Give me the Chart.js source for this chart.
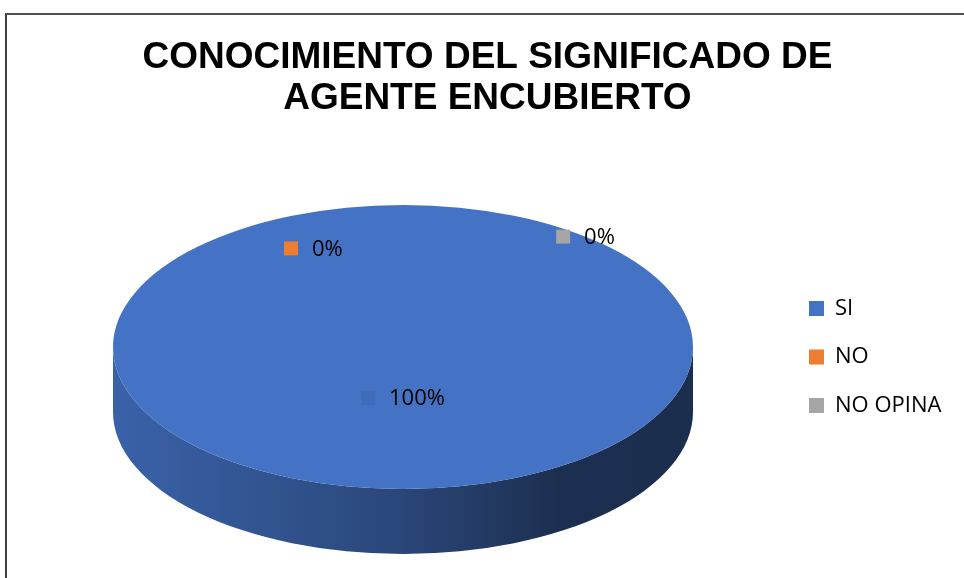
<!DOCTYPE html>
<html><head><meta charset="utf-8">
<script src="https://cdn.jsdelivr.net/npm/chart.js@4.4.0/dist/chart.umd.min.js"></script>
<style>
html,body{margin:0;padding:0;background:#fff;}
#wrap{position:relative;width:964px;height:578px;overflow:hidden;}
#frame{position:absolute;left:5px;top:13px;width:2000px;height:2000px;border-top:2px solid #4f4f4f;border-left:2px solid #404040;pointer-events:none;}
canvas{position:absolute;left:0;top:0;}
</style></head><body>
<div id="wrap"><canvas id="c" width="964" height="578"></canvas><div id="frame"></div></div>
<script>
const titleLines = ['CONOCIMIENTO DEL SIGNIFICADO DE', 'AGENTE ENCUBIERTO'];
const categories = ['SI', 'NO', 'NO OPINA'];
const percentages = [100, 0, 0];
const seriesColors = ['#4472C4', '#ED7D31', '#A5A5A5'];

function shade(hex, f) {
  const n = parseInt(hex.slice(1), 16);
  const r = (n >> 16) & 255, g = (n >> 8) & 255, b = n & 255;
  return 'rgb(' + Math.round(r * f) + ',' + Math.round(g * f) + ',' + Math.round(b * f) + ')';
}

const pie3d = {
  id: 'pie3d',
  beforeDatasetsDraw(chart, args, opts) {
    const ctx = chart.ctx;
    const arcs = chart.getDatasetMeta(0).data;
    ctx.save();
    if (!arcs.length) return;
    const cx = arcs[0].x, cy = arcs[0].y, R = arcs[0].outerRadius;
    ctx.translate(cx, cy); ctx.scale(opts.stretchX, 1); ctx.translate(-cx, -cy);
    const d = opts.depth;
    arcs.forEach((arc, i) => {
      const s = arc.startAngle, e = arc.endAngle;
      if (e - s <= 0) return;
      const color = chart.data.datasets[0].backgroundColor[i];
      const grad = ctx.createLinearGradient(cx - R, 0, cx + R, 0);
      grad.addColorStop(0, shade(color, 0.86));
      grad.addColorStop(0.49, shade(color, 0.62));
      grad.addColorStop(0.77, shade(color, 0.41));
      grad.addColorStop(1, shade(color, 0.40));
      for (let k = -1; k <= 1; k++) {
        const lo = Math.max(s, k * 2 * Math.PI), hi = Math.min(e, k * 2 * Math.PI + Math.PI);
        if (hi <= lo) continue;
        ctx.beginPath();
        ctx.arc(cx, cy, R, lo, hi);
        ctx.arc(cx, cy + d, R, hi, lo, true);
        ctx.closePath();
        ctx.fillStyle = grad;
        ctx.fill();
      }
    });
  },
  afterDatasetsDraw(chart, args, opts) {
    const ctx = chart.ctx;
    ctx.restore();
    const arcs = chart.getDatasetMeta(0).data;
    if (!arcs.length) return;
    const cx = arcs[0].x, cy = arcs[0].y, R = arcs[0].outerRadius;
    const data = chart.data.datasets[0].data;
    const total = data.reduce((a, b) => a + b, 0);
    ctx.save();
    ctx.font = opts.labelFont;
    ctx.textBaseline = 'middle';
    ctx.textAlign = 'left';
    arcs.forEach((arc, i) => {
      const pct = Math.round(data[i] / total * 100) + '%';
      const custom = opts.labelAnchors[i];
      let ang, rf;
      if (custom) { ang = custom.angle * Math.PI / 180; rf = custom.radius; }
      else { ang = (arc.startAngle + arc.endAngle) / 2; rf = opts.labelRadius; }
      const ax = cx + Math.cos(ang) * rf * R * opts.stretchX;
      const ay = cy + Math.sin(ang) * rf * R;
      const tw = ctx.measureText(pct).width;
      const box = opts.keySize, gap = opts.keyGap;
      const x0 = ax - (box + gap + tw) / 2;
      const c = chart.data.datasets[0].backgroundColor[i];
      ctx.fillStyle = (data[i] / total > 0.5) ? shade(c, 0.95) : c;
      ctx.fillRect(x0, ay - box / 2, box, box);
      ctx.fillStyle = '#000';
      ctx.fillText(pct, x0 + box + gap, ay + 1);
    });
    ctx.restore();
  }
};

// legend geometry -> layout padding
const legendFontSize = 22, legendBox = 15, legendPad = 26.5;
const mctx = document.createElement('canvas').getContext('2d');
mctx.font = legendFontSize + "px 'Open Sans'";
const maxLabelW = Math.max(...categories.map(t => mctx.measureText(t).width));
const legendW = legendPad + legendBox + legendFontSize / 2 + maxLabelW + 10;
const legendLeft = 809 - legendPad;
const padRight = 964 - legendLeft - legendW;
const padLeft = 806 - legendLeft;

new Chart(document.getElementById('c'), {
  type: 'pie',
  data: {
    labels: categories,
    datasets: [{
      data: percentages,
      backgroundColor: seriesColors,
      borderWidth: 0,
      radius: 142,
      hoverOffset: 0,
      clip: false
    }]
  },
  options: {
    responsive: false,
    animation: false,
    events: [],
    layout: { padding: { top: 0, bottom: 13, left: padLeft, right: padRight } },
    plugins: {
      title: {
        display: true,
        text: titleLines,
        color: '#000',
        font: { family: "'Liberation Sans', Arial, sans-serif", size: 37, weight: 'bold', lineHeight: '41px' },
        padding: { top: 37, bottom: 10 }
      },
      legend: {
        position: 'right',
        fullSize: false,
        align: 'center',
        title: { display: true, text: '', padding: 0, font: { size: 20, lineHeight: 1 } },
        labels: {
          boxWidth: legendBox,
          boxHeight: legendBox,
          padding: legendPad,
          color: '#000',
          font: { family: "'Open Sans'", size: legendFontSize }
        }
      },
      tooltip: { enabled: false },
      pie3d: {
        stretchX: 290 / 142,
        depth: 65,
        labelRadius: 0.36,
        labelAnchors: [null, { angle: -114, radius: 0.76 }, { angle: -51, radius: 1.0 }],
        labelFont: "22px 'Open Sans'",
        keySize: 14,
        keyGap: 14
      }
    }
  },
  plugins: [pie3d]
});
</script>
</body></html>
